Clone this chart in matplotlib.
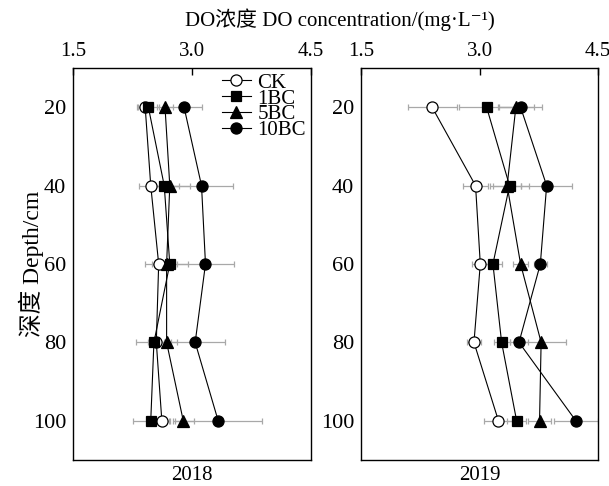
import matplotlib.pyplot as plt

plt.rcParams['font.family'] = ['Liberation Serif', 'Noto Sans CJK SC', 'DejaVu Serif']

depth = [20, 40, 60, 80, 100]
series = ["CK", "1BC", "5BC", "10BC"]

# 2018 means and errors (mg/L)
do_2018 = {
    "CK":   [2.41, 2.48, 2.58, 2.55, 2.62],
    "1BC":  [2.45, 2.65, 2.72, 2.52, 2.48],
    "5BC":  [2.66, 2.72, 2.68, 2.68, 2.89],
    "10BC": [2.90, 3.12, 3.17, 3.04, 3.33],
}
err_2018 = {
    "CK":   [0.10, 0.15, 0.09, 0.10, 0.10],
    "1BC":  [0.13, 0.18, 0.07, 0.22, 0.23],
    "5BC":  [0.10, 0.25, 0.27, 0.13, 0.13],
    "10BC": [0.23, 0.40, 0.36, 0.38, 0.55],
}

# 2019 means and errors (mg/L)
do_2019 = {
    "CK":   [2.40, 2.95, 3.01, 2.93, 3.24],
    "1BC":  [3.09, 3.38, 3.17, 3.28, 3.47],
    "5BC":  [3.46, 3.35, 3.52, 3.78, 3.76],
    "10BC": [3.52, 3.85, 3.77, 3.50, 4.22],
}
err_2019 = {
    "CK":   [0.31, 0.16, 0.10, 0.09, 0.18],
    "1BC":  [0.35, 0.25, 0.12, 0.10, 0.12],
    "5BC":  [0.23, 0.18, 0.09, 0.31, 0.15],
    "10BC": [0.27, 0.32, 0.08, 0.12, 0.28],
}

styles = {
    "CK":   dict(marker="o", mfc="white", ms=8),
    "1BC":  dict(marker="s", mfc="black", ms=7),
    "5BC":  dict(marker="^", mfc="black", ms=8),
    "10BC": dict(marker="o", mfc="black", ms=8),
}

fs = 15

fig = plt.figure(figsize=(6.09, 4.86), dpi=100)
ax1 = fig.add_axes([73 / 609, 26 / 486, 238 / 609, 392 / 486])
ax2 = fig.add_axes([361 / 609, 26 / 486, 237 / 609, 392 / 486])

for ax, vals, errs, year in [(ax1, do_2018, err_2018, "2018"),
                             (ax2, do_2019, err_2019, "2019")]:
    # error bars first, behind everything
    for s in series:
        ax.errorbar(vals[s], depth, xerr=errs[s], fmt="none", ecolor="#a8a8a8",
                    elinewidth=0.9, capsize=2.2, capthick=0.9, zorder=1)
    for s in series:
        ax.plot(vals[s], depth, color="black", lw=0.8, mec="black", mew=0.9,
                label=s, zorder=3, **styles[s])
    ax.set_xlim(1.5, 4.5)
    ax.set_ylim(110, 10)
    ax.set_xticks([1.5, 3.0, 4.5])
    ax.set_xticklabels(["1.5", "3.0", "4.5"])
    ax.set_yticks(depth)
    ax.xaxis.tick_top()
    ax.tick_params(axis="x", direction="in", length=5, width=1, labelsize=fs, pad=5)
    ax.tick_params(axis="y", length=0, labelsize=16, pad=5)
    for sp in ax.spines.values():
        sp.set_linewidth(1.0)
    ax.set_xlabel(year, fontsize=fs, labelpad=4)

ax1.legend(loc="upper right", frameon=False, fontsize=fs, handlelength=1.4,
           handletextpad=0.3, labelspacing=-0.18, borderaxespad=0, borderpad=0.25,
           bbox_to_anchor=(1.0, 1.0))

ax1.set_ylabel("深度 Depth/cm", fontsize=17)
ax1.yaxis.set_label_coords(-0.12, 0.5)
fig.text(340 / 609, 1 - 20 / 486, "DO浓度 DO concentration/(mg·L⁻¹)",
         ha="center", va="center", fontsize=15)

fig.savefig("out.png", dpi=100)
